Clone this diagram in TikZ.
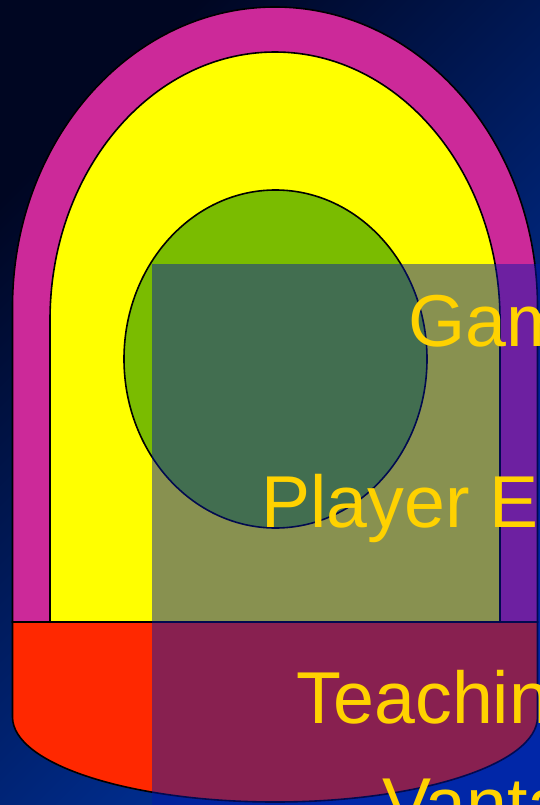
\documentclass[tikz,border=0pt]{standalone}
\usepackage{fontspec}
\newfontfamily\capfont{Liberation Sans}
\usetikzlibrary{shapes.geometric}

\definecolor{skydark}{RGB}{0,6,34}
\definecolor{skylight}{RGB}{0,54,168}
\definecolor{archmagenta}{RGB}{204,41,153}
\definecolor{archyellow}{RGB}{255,255,0}
\definecolor{coregreen}{RGB}{122,188,0}
\definecolor{basered}{RGB}{255,40,0}
\definecolor{veilblue}{RGB}{4,23,170}
\definecolor{capgold}{RGB}{255,210,0}

\begin{document}
\begin{tikzpicture}[x=1pt, y=-1pt,
    shell/.style={draw=black, line width=1.6pt},
    veil/.style={fill=veilblue, opacity=0.47},
    caption/.style={text=capgold, font=\capfont\fontsize{73.5}{80}\selectfont, inner sep=0pt, anchor=base west}
  ]
    \useasboundingbox (0,0) rectangle (540,805);
    \clip (0,0) rectangle (540,805);
    \shade[top color=skydark, bottom color=skylight, shading angle=45] (0,0) rectangle (540,805);
    % arches
    \draw[shell, fill=archmagenta] (12.5,622) -- (12.5,307)
      arc[start angle=180, end angle=360, x radius=262.5, y radius=300] -- (537.5,622) -- cycle;
    \draw[shell, fill=archyellow] (50,622) -- (50,320)
      arc[start angle=180, end angle=360, x radius=225, y radius=268] -- (500,622) -- cycle;
    \node[ellipse, shell, fill=coregreen, minimum width=303pt, minimum height=338pt, inner sep=0pt] (core) at (275.5,359) {};
    % base
    \draw[shell, fill=basered] (12.5,622) -- (12.5,717)
      arc[start angle=180, end angle=0, x radius=262.5, y radius=85] -- (537.5,622) -- cycle;
    \fill[veil] (152,264) rectangle (560,830);
    % captions
    \node[caption] (game) at (408.5,346) {Gam};
    \node[caption] (player) at (261,527) {Player E};
    \node[caption] (teaching) at (296.5,723) {Teachin};
    \node[caption] (vanta) at (382,829.5) {Vanta};
  \end{tikzpicture}
\end{document}
